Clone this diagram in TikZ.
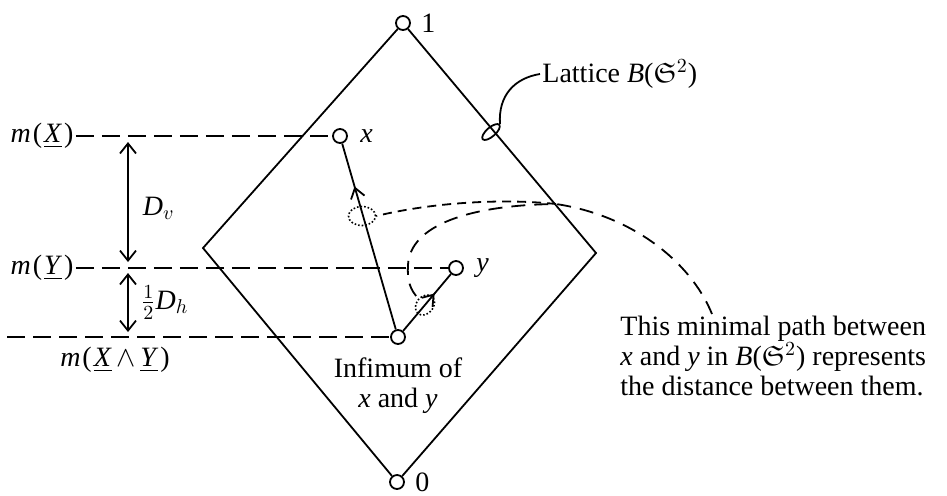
\documentclass[tikz,border=0pt]{standalone}
\usepackage{amsmath,amssymb}
\usepackage{fontspec}
\setmainfont{Liberation Serif}
\usepackage{tikz}
\usetikzlibrary{arrows.meta,positioning,calc,shapes.geometric,decorations.markings}
\newcommand{\latB}{\textit{B}(\ensuremath{\mathfrak{S}^{2}})}
\newcommand{\meas}[1]{\textit{m}\kern1pt(\kern1pt#1\kern1pt)}
\tikzset{
  elem/.style={draw,circle,inner sep=0pt,minimum size=7pt,line width=0.9pt,fill=white},
  lbl/.style={font=\fontsize{14}{15}\selectfont,inner sep=1pt},
  edge/.style={line width=0.9pt},
  level/.style={line width=0.9pt,dash pattern=on 9pt off 4pt},
  gap/.style={{Straight Barb[length=5pt,width=8pt]}-{Straight Barb[length=5pt,width=8pt]},line width=0.9pt},
  midarrow/.style={decoration={markings,
      mark=at position #1 with {\arrow{Straight Barb[length=5pt,width=7pt]}}},
    postaction={decorate}},
  leader/.style={line width=0.9pt,dash pattern=on 7pt off 4.5pt},
  shortleader/.style={line width=0.9pt,dash pattern=on 4.5pt off 3pt},
  spot/.style={draw,ellipse,inner sep=0pt,densely dotted,line width=0.8pt}
}
\begin{document}
\begin{tikzpicture}[x=0.5pt,y=-0.5pt]
  \useasboundingbox (0,0) rectangle (947,495);
  % lattice elements
  \node[elem] (top) at (403,23) {};
  \node[elem] (bot) at (397,482) {};
  \node[elem] (x) at (340,136) {};
  \node[elem] (y) at (456,268) {};
  \node[elem] (inf) at (398,337) {};
  \coordinate (W) at (203,248);
  \coordinate (E) at (596,253);
  \draw[edge] (top) -- (W) -- (bot) -- (E) -- (top);

  \node[lbl,right=4pt of top] (one) {1};
  \node[lbl,right=4pt of bot] (zero) {0};
  \node[lbl,right=5pt of x] (xlbl) {\textit{x}};
  \node[lbl,right=5pt of y] (ylbl) {\textit{y}};
  \node[lbl,align=center,below=5pt of inf] (inftxt) {Infimum of\\\textit{x} and \textit{y}};

  % levels
  \node[lbl] (mx) at (42,136) {\meas{\underline{\textit{X}}}};
  \node[lbl] (my) at (42,268) {\meas{\underline{\textit{Y}}}};
  \node[lbl] (mxy) at (115,360) {\meas{\underline{\textit{X}}\,$\wedge$\,\underline{\textit{Y}}}};
  \coordinate (lxy) at (7,337);
  \draw[level] (mx) -- (x);
  \draw[level] (my) -- (y);
  \draw[level] (lxy) -- (inf);

  \coordinate (dv1) at (128,142);
  \coordinate (dv2) at (128,262);
  \coordinate (dh1) at (128,273);
  \coordinate (dh2) at (128,332);
  \draw[gap] (dv1) -- node[lbl,right=6pt,yshift=-3pt] (dv) {\textit{D}$_v$} (dv2);
  \draw[gap] (dh1) -- node[lbl,right=5pt] (dh) {$\frac{1}{2}$\textit{D}$_h$} (dh2);

  % paths
  \draw[edge,midarrow=0.77] (inf) -- (x);
  \draw[edge,midarrow=0.66] (inf) -- (y);

  % lattice label
  \node[draw,ellipse,inner sep=0pt,minimum width=11pt,minimum height=4.5pt,
        line width=0.9pt,rotate=41] (ring) at (491,132) {};
  \node[lbl,anchor=west] (lattice) at (540,74) {Lattice \latB};
  \draw[edge] (ring.east) .. controls (498,95) and (515,78) .. (lattice.west);

  % minimal path note
  \node[spot,minimum width=13.5pt,minimum height=9.5pt] (spotA) at (362,216) {};
  \node[spot,minimum width=11pt,minimum height=8.5pt,rotate=50] (spotB) at (425,305) {};
  \node[lbl,align=left,anchor=north west] (note) at (618,314)
    {This minimal path between\\\textit{x} and \textit{y} in \latB\ represents\\the distance between them.};
  \coordinate (split) at (556,204);
  \draw[leader] ([xshift=47pt]note.north west) .. controls (690,260) and (630,215) .. (split)
    .. controls (470,205) and (410,225) .. (408,265)
    .. controls (407,280) and (410,290) .. (spotB);
  \draw[shortleader] (split) .. controls (500,198) and (430,203) .. (spotA.east);
\end{tikzpicture}
\end{document}
